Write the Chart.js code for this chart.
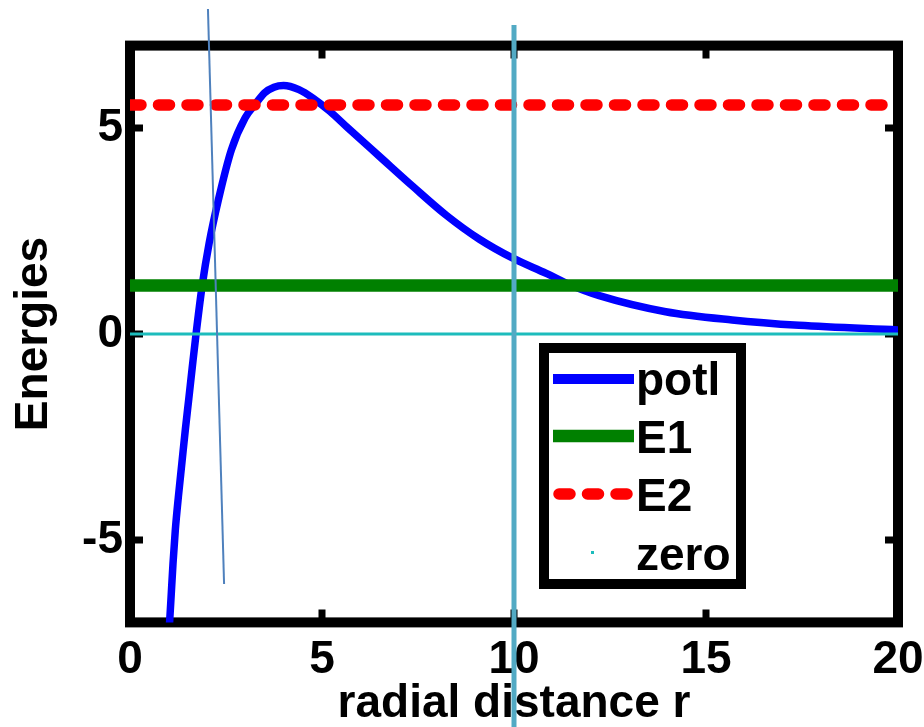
<!DOCTYPE html>
<html>
<head>
<meta charset="utf-8">
<script src="https://cdn.jsdelivr.net/npm/chart.js@4.4.0/dist/chart.umd.min.js"></script>
<style>
  html, body { margin: 0; padding: 0; background: #fff; }
  canvas { display: block; }
</style>
</head>
<body>
<canvas id="grafico" width="924" height="727"></canvas>
<script>
// values
const radios = [1.0, 1.07, 1.12, 1.18, 1.26, 1.35, 1.44, 1.53, 1.62, 1.72, 1.88, 2.06, 2.3, 2.64, 3.0, 3.25, 3.5, 3.75, 4.0, 4.4, 4.77, 5.21, 5.64, 6.51, 7.37, 8.24, 9.1, 9.97, 10.84, 11.44, 12.22, 13.95, 15.68, 17.42, 20];
const potl = [-7.5, -6.38, -5.57, -4.76, -3.95, -3.14, -2.33, -1.58, -0.82, 0, 1.18, 2.2, 3.25, 4.47, 5.25, 5.56, 5.85, 5.99, 6.03, 5.93, 5.72, 5.4, 5.03, 4.3, 3.58, 2.88, 2.3, 1.84, 1.47, 1.2, 0.93, 0.54, 0.34, 0.21, 0.1];
const E1 = 1.18;
const E2 = 5.56;
const rangoR = [0, 20];
const rangoE = [-7, 7];
const xTicks = [0, 5, 10, 15, 20];
const yTicks = [-5, 0, 5];
// the two lines drawn over the figure
const vertX = [10, 10];
const vertY = [7.5, -9.8];
const inclX = [2.03, 2.45];
const inclY = [7.89, -6.07];

const puntos = (xs, ys) => xs.map((v, i) => ({ x: v, y: ys[i] }));

Chart.defaults.font.family = '"Liberation Sans", Arial, sans-serif';

// black box with inward ticks, like matlab
const marco = {
  id: 'marco',
  beforeDatasetsDraw(chart) {
    const { ctx, chartArea: a, scales: { x, y } } = chart;
    ctx.save();
    ctx.strokeStyle = '#000';
    ctx.lineWidth = 10;
    ctx.strokeRect(a.left, a.top, a.right - a.left, a.bottom - a.top);
    ctx.lineWidth = 7;
    ctx.beginPath();
    xTicks.forEach(v => {
      if (v <= rangoR[0] || v >= rangoR[1]) return;
      const px = x.getPixelForValue(v);
      ctx.moveTo(px, a.top); ctx.lineTo(px, a.top + 13);
      ctx.moveTo(px, a.bottom); ctx.lineTo(px, a.bottom - 13);
    });
    yTicks.forEach(v => {
      if (v <= rangoE[0] || v >= rangoE[1]) return;
      const py = y.getPixelForValue(v);
      ctx.moveTo(a.left, py); ctx.lineTo(a.left + 13, py);
      ctx.moveTo(a.right, py); ctx.lineTo(a.right - 13, py);
    });
    ctx.stroke();
    ctx.restore();
  }
};

// boxed legend inside the axes
const leyenda = {
  id: 'leyenda',
  afterDatasetsDraw(chart) {
    const ctx = chart.ctx;
    const filas = [379, 436, 494, 552];
    const bases = [395, 453, 511, 570];
    ctx.save();
    ctx.fillStyle = '#fff';
    ctx.fillRect(544, 348, 197, 236);
    ctx.strokeStyle = '#000';
    ctx.lineWidth = 10;
    ctx.strokeRect(544, 348, 197, 236);
    const items = chart.data.datasets.filter(d => d.enLeyenda);
    items.forEach((d, i) => {
      const yy = filas[i];
      ctx.strokeStyle = d.borderColor;
      if (d.label === 'zero') {
        ctx.fillStyle = d.borderColor;
        ctx.fillRect(591, yy - 1, 3, 3);
      } else {
        ctx.lineWidth = Math.max(d.borderWidth, 10);
        ctx.setLineDash(d.borderDash || []);
        ctx.lineCap = d.borderCapStyle || 'butt';
        ctx.beginPath();
        if (d.borderDash) { ctx.moveTo(559, yy); ctx.lineTo(628, yy); }
        else { ctx.moveTo(553, yy); ctx.lineTo(634, yy); }
        ctx.stroke();
        ctx.setLineDash([]);
      }
      ctx.fillStyle = '#000';
      ctx.font = 'bold 46px "Liberation Sans", Arial, sans-serif';
      ctx.textBaseline = 'alphabetic';
      ctx.textAlign = 'left';
      ctx.fillText(d.label, 636, bases[i]);
    });
    ctx.restore();
  }
};

const fuente = { size: 46, weight: 'bold', lineHeight: 1 };

new Chart(document.getElementById('grafico'), {
  type: 'line',
  data: {
    datasets: [
      {
        label: 'potl', enLeyenda: true,
        data: puntos(radios, potl),
        borderColor: '#0000ff', borderWidth: 7.5,
        cubicInterpolationMode: 'monotone', order: 6
      },
      {
        label: 'E1', enLeyenda: true,
        data: puntos(rangoR, [E1, E1]),
        borderColor: '#008000', borderWidth: 12.5, order: 5
      },
      {
        label: 'E2', enLeyenda: true,
        data: puntos(rangoR, [E2, E2]),
        borderColor: '#ff0000', borderWidth: 11.5,
        borderDash: [11, 17.5], borderCapStyle: 'round',
        clip: { left: 0, right: 3, top: 10, bottom: 10 }, order: 4
      },
      {
        label: 'zero', enLeyenda: true,
        data: puntos(rangoR, [0, 0]),
        borderColor: '#1cbcbc', borderWidth: 3, order: 3
      },
      {
        label: 'vertical',
        data: puntos(vertX, vertY),
        borderColor: '#52aac4', borderWidth: 5, clip: false, order: 2
      },
      {
        label: 'inclinada',
        data: puntos(inclX, inclY),
        borderColor: '#4f81bd', borderWidth: 2, clip: false, order: 1
      }
    ]
  },
  options: {
    responsive: false,
    animation: false,
    devicePixelRatio: 1,
    layout: { padding: { top: 45.6, right: 26, bottom: 0, left: 0 } },
    elements: { point: { radius: 0 } },
    plugins: { legend: { display: false }, tooltip: { enabled: false } },
    scales: {
      x: {
        type: 'linear', min: rangoR[0], max: rangoR[1],
        afterBuildTicks: s => { s.ticks = xTicks.map(v => ({ value: v })); },
        afterFit: s => { s.height = 104.6; },
        grid: { display: false, drawTicks: false },
        border: { display: false },
        // tall line height pushes the labels down without adding side padding
        ticks: { color: '#000', font: { size: 46, weight: 'bold', lineHeight: 75.2 / 46 }, padding: 0, maxRotation: 0, autoSkip: false },
        title: { display: true, text: 'radial distance r', color: '#000', font: fuente, padding: { top: 0, bottom: 0 } }
      },
      y: {
        type: 'linear', min: rangoE[0], max: rangoE[1],
        afterBuildTicks: s => { s.ticks = yTicks.map(v => ({ value: v })); },
        afterFit: s => { s.width = 130; },
        grid: { display: false, drawTicks: false },
        border: { display: false },
        ticks: { color: '#000', font: fuente, padding: 7 },
        title: { display: true, text: 'Energies', color: '#000', font: fuente, padding: { top: 11, bottom: 0 } }
      }
    }
  },
  plugins: [marco, leyenda]
});
</script>
</body>
</html>
